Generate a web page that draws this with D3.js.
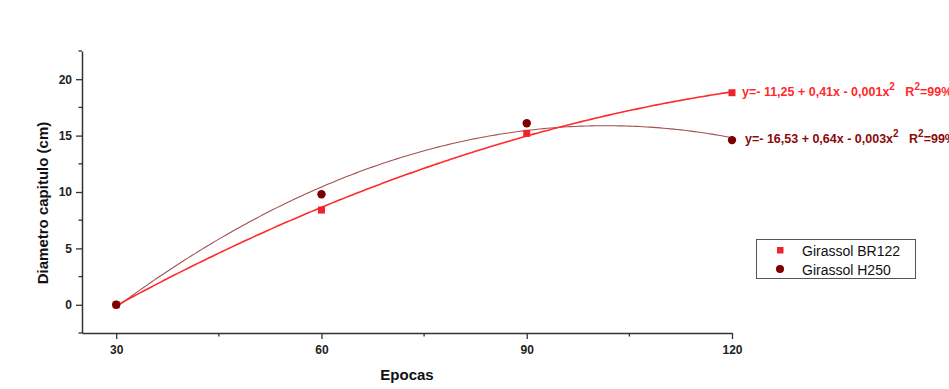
<!DOCTYPE html>
<html>
<head>
<meta charset="utf-8">
<script src="https://cdn.jsdelivr.net/npm/d3@7"></script>
<style>
  html, body { margin: 0; padding: 0; background: #ffffff; overflow: hidden; }
  svg { display: block; font-family: "Liberation Sans", Arial, sans-serif; }
</style>
</head>
<body>
<svg id="chart" width="949" height="389"></svg>
<script>
// Sampling epochs (days) and head diameter per cultivar
const epocas = [30, 60, 90, 120];
const br122 = [0, 8.4, 15.2, 18.8];
const h250 = [0, 9.8, 16.1, 14.6];

const seriesNames = ["Girassol BR122", "Girassol H250"];
const equations = [
  { text: "y=- 11,25 + 0,41x - 0,001x", r2: "99%" },
  { text: "y=- 16,53 + 0,64x - 0,003x", r2: "99%" }
];

const xTicks = [30, 60, 90, 120];
const xMinorTicks = [45, 75, 105];
const yTicks = [0, 5, 10, 15, 20];
const yMinorTicks = [-2.5, 2.5, 7.5, 12.5, 17.5, 22.5];

const colors = { br122: "#f0222c", br122Fit: "#ff2a2a", h250: "#7d0000", h250Fit: "#a45050", eq1: "#ff2a2a", eq2: "#8a0a0a" };

const svg = d3.select("#chart");
const x = d3.scaleLinear().domain([25, 120]).range([82, 732]);
const y = d3.scaleLinear().domain([-2.5, 22.5]).range([333, 51]);

// Least-squares quadratic fit y = a + b x + c x^2
function quadFit(xs, ys) {
  let S = [0, 0, 0, 0, 0], T = [0, 0, 0];
  xs.forEach((xi, i) => {
    for (let k = 0; k < 5; k++) S[k] += Math.pow(xi, k);
    for (let k = 0; k < 3; k++) T[k] += ys[i] * Math.pow(xi, k);
  });
  const M = [[S[0], S[1], S[2], T[0]], [S[1], S[2], S[3], T[1]], [S[2], S[3], S[4], T[2]]];
  for (let i = 0; i < 3; i++) {
    for (let j = i + 1; j < 3; j++) {
      const f = M[j][i] / M[i][i];
      for (let k = i; k < 4; k++) M[j][k] -= f * M[i][k];
    }
  }
  const c = M[2][3] / M[2][2];
  const b = (M[1][3] - M[1][2] * c) / M[1][1];
  const a = (M[0][3] - M[0][1] * b - M[0][2] * c) / M[0][0];
  return t => a + b * t + c * t * t;
}

const line = d3.line().x(d => x(d[0])).y(d => y(d[1]));
const grid = d3.range(30, 120.001, 0.5);

function drawFit(vals, color, width) {
  const f = quadFit(epocas, vals);
  svg.append("path")
    .attr("d", line(grid.map(t => [t, f(t)])))
    .attr("fill", "none").attr("stroke", color).attr("stroke-width", width);
}
drawFit(h250, colors.h250Fit, 1.1);
drawFit(br122, colors.br122Fit, 1.6);

// Axes
const axisColor = "#333";
const xAxis = d3.axisBottom(x).tickValues(xTicks).tickSize(6).tickSizeOuter(0).tickPadding(6);
const gx = svg.append("g").attr("transform", "translate(0,333)").call(xAxis);
const yAxis = d3.axisLeft(y).tickValues(yTicks).tickSize(6).tickSizeOuter(0).tickPadding(4);
const gy = svg.append("g").attr("transform", "translate(82,0)").call(yAxis);
[gx, gy].forEach(g => {
  g.select(".domain").attr("stroke", axisColor).attr("stroke-width", 1.5);
  g.selectAll(".tick line").attr("stroke", axisColor).attr("stroke-width", 1.3);
  g.selectAll(".tick text").attr("fill", "#222").style("font-size", "12px").style("font-weight", "bold")
    .style("font-family", "'Liberation Sans', Arial, sans-serif");
});
gx.selectAll(".minor").data(xMinorTicks).enter().append("line")
  .attr("x1", d => x(d)).attr("x2", d => x(d)).attr("y1", 0).attr("y2", 3.5)
  .attr("stroke", axisColor).attr("stroke-width", 1.3);
gy.selectAll(".minor").data(yMinorTicks).enter().append("line")
  .attr("y1", d => y(d)).attr("y2", d => y(d)).attr("x1", 0).attr("x2", -3.5)
  .attr("stroke", axisColor).attr("stroke-width", 1.3);

// Axis titles
svg.append("text").attr("x", 407).attr("y", 380).attr("text-anchor", "middle")
  .style("font-size", "15px").style("font-weight", "bold").attr("fill", "#111").text("Epocas");
svg.append("text").attr("transform", "translate(48,203) rotate(-90)").attr("text-anchor", "middle")
  .style("font-size", "15px").style("font-weight", "bold").attr("fill", "#111").text("Diametro capitulo (cm)");

// Markers
svg.selectAll(".sq").data(epocas.map((e, i) => [e, br122[i]])).enter().append("rect")
  .attr("x", d => x(d[0]) - 3.5).attr("y", d => y(d[1]) - 3.5)
  .attr("width", 7).attr("height", 7).attr("fill", colors.br122);
svg.selectAll(".ci").data(epocas.map((e, i) => [e, h250[i]])).enter().append("circle")
  .attr("cx", d => x(d[0])).attr("cy", d => y(d[1])).attr("r", 4.2).attr("fill", colors.h250);

// Regression equations
function eqLabel(eq, px, py, color) {
  const t = svg.append("text").attr("x", px).attr("y", py).attr("fill", color)
    .style("font-size", "12.5px").style("font-weight", "bold");
  t.append("tspan").text(eq.text);
  t.append("tspan").attr("dy", -6).style("font-size", "10px").text("2");
  t.append("tspan").attr("dy", 6).text("\u00a0\u00a0\u00a0R");
  t.append("tspan").attr("dy", -6).style("font-size", "10px").text("2");
  t.append("tspan").attr("dy", 6).text("=" + eq.r2);
}
eqLabel(equations[0], 742, 96, colors.eq1);
eqLabel(equations[1], 745, 143, colors.eq2);

// Legend
const lg = svg.append("g");
lg.append("rect").attr("x", 756.5).attr("y", 239.5).attr("width", 159).attr("height", 39)
  .attr("fill", "#fff").attr("stroke", "#555").attr("stroke-width", 1);
lg.append("rect").attr("x", 777).attr("y", 247).attr("width", 6.5).attr("height", 6.5).attr("fill", colors.br122);
lg.append("circle").attr("cx", 780).attr("cy", 269).attr("r", 4).attr("fill", colors.h250);
seriesNames.forEach((n, i) => {
  lg.append("text").attr("x", 802).attr("y", 255.5 + i * 19).style("font-size", "14px")
    .attr("fill", "#111").text(n);
});
</script>
</body>
</html>
